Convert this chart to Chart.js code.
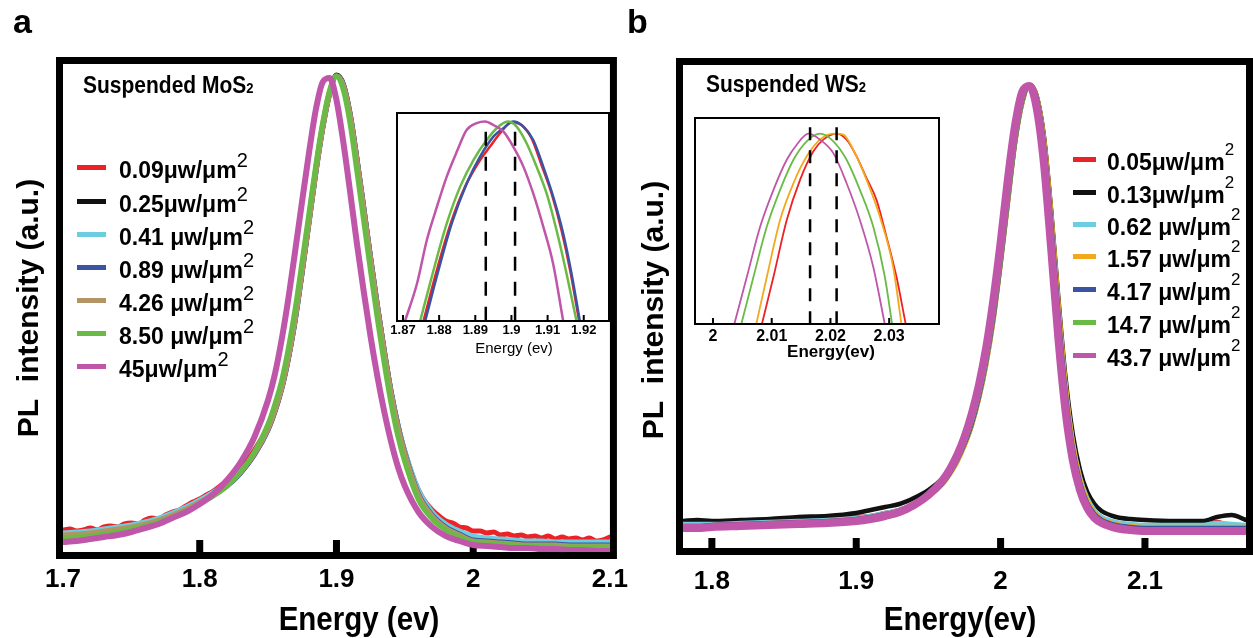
<!DOCTYPE html>
<html>
<head>
<meta charset="utf-8">
<script src="https://cdn.jsdelivr.net/npm/chart.js@4.4.0/dist/chart.umd.min.js"></script>
<style>
  html, body { margin: 0; padding: 0; background: #fff; }
  body { width: 1253px; height: 638px; position: relative; overflow: hidden;
         font-family: "Liberation Sans", Arial, Helvetica, sans-serif; color: #000; }
  canvas { position: absolute; }
  .t { position: absolute; white-space: nowrap; font-weight: bold; line-height: 1; z-index: 5; }
  .ct { position: absolute; white-space: nowrap; font-weight: bold; line-height: 1;
        transform: translate(-50%, -50%); z-index: 5; }
  .ylab { position: absolute; white-space: nowrap; font-weight: bold; line-height: 1; font-size: 30px;
          transform: translate(-50%, -50%) rotate(-90deg); z-index: 5; }
  .sw { position: absolute; height: 5px; z-index: 5; }
  .sup { position: relative; font-weight: normal; }
</style>
</head>
<body>

<canvas id="cMo" width="640" height="638" style="left:0;top:0;width:640px;height:638px"></canvas>
<canvas id="cWs" width="613" height="638" style="left:640px;top:0;width:613px;height:638px"></canvas>
<canvas id="cMoIn" width="240" height="265" style="left:380px;top:100px;width:240px;height:265px"></canvas>
<canvas id="cWsIn" width="270" height="260" style="left:680px;top:105px;width:270px;height:260px"></canvas>

<div class="t" style="left:13px;top:4px;font-size:34px">a</div>
<div class="t" style="left:627px;top:4px;font-size:34px">b</div>

<div class="t" style="left:83px;top:75px;font-size:21px;transform:scaleY(1.15);transform-origin:left bottom">Suspended MoS<span style="font-size:0.62em">2</span></div>
<div class="t" style="left:706px;top:74px;font-size:21px;transform:scaleY(1.15);transform-origin:left bottom">Suspended WS<span style="font-size:0.62em">2</span></div>

<div class="ylab" style="left:28px;top:308px">PL&nbsp; intensity (a.u.)</div>
<div class="ylab" style="left:653px;top:310px">PL&nbsp; intensity (a.u.)</div>

<div class="ct" style="left:359px;top:619px;font-size:29.5px;transform:translate(-50%,-50%) scaleY(1.1)">Energy (ev)</div>
<div class="ct" style="left:960px;top:619px;font-size:29.5px;transform:translate(-50%,-50%) scaleY(1.1)">Energy(ev)</div>
<div class="ct" style="left:514px;top:347px;font-size:15px;font-weight:normal">Energy (ev)</div>
<div class="ct" style="left:831px;top:351px;font-size:17px">Energy(ev)</div>

<div id="legMo"></div>
<div id="legWs"></div>

<script>
// ---------- panel a : suspended MoS2 ----------
const moPower = ['0.09', '0.25', '0.41 ', '0.89 ', '4.26 ', '8.50 ', '45'];
const moColors = ['#ec2227', '#111111', '#6dcde0', '#3a54a3', '#b39464', '#6abb46', '#bf56a9'];
const moTicks = [1.7, 1.8, 1.9, 2.0, 2.1];
const moTickLabels = ['1.7', '1.8', '1.9', '2', '2.1'];
const moMarks = [1.8, 1.9, 2.0];

const moE = [1.70, 1.71, 1.72, 1.73, 1.74, 1.75, 1.76, 1.77, 1.78, 1.79, 1.80, 1.81, 1.82, 1.83, 1.84, 1.85,
  1.855, 1.86, 1.865, 1.87, 1.875, 1.88, 1.885, 1.89, 1.895, 1.90, 1.905, 1.91, 1.915, 1.92, 1.925, 1.93, 1.935, 1.94, 1.945, 1.95,
  1.96, 1.97, 1.98, 1.99, 2.00, 2.01, 2.02, 2.03, 2.04, 2.05, 2.06, 2.07, 2.08, 2.09, 2.10];

const moBlack = [18, 19, 20, 22, 24, 26, 29, 33, 38, 44, 51, 59, 68, 80, 98, 123,
  141, 164, 195, 234, 281, 331, 381, 425, 459, 477, 468, 438, 393, 344, 294, 246, 201, 160, 127, 100,
  60, 38, 26, 20, 15, 13, 12, 11, 10, 10, 9, 9, 8, 8, 8];
const moCyan = [19, 20, 21, 23, 25, 27, 30, 34, 39, 45, 52, 60, 69, 81, 99, 124,
  142, 165, 196, 235, 282, 331, 381, 425, 459, 476, 467, 437, 392, 343, 293, 245, 200, 160, 127, 101,
  62, 40, 28, 21, 16, 14, 13, 12, 11, 11, 10, 10, 10, 10, 10];
const moBlue = [16, 17, 18, 20, 22, 24, 27, 31, 36, 42, 49, 57, 66, 79, 97, 122,
  140, 163, 194, 233, 280, 330, 380, 424, 458, 476, 468, 438, 393, 344, 294, 246, 201, 160, 126, 99,
  58, 37, 25, 18, 12, 11, 10, 9, 8, 8, 8, 7, 7, 7, 7];
const moTan = [17, 18, 19, 21, 23, 25, 28, 32, 37, 43, 50, 58, 67, 80, 98, 123,
  141, 164, 195, 234, 281, 330, 380, 424, 458, 476, 467, 437, 392, 343, 293, 245, 200, 159, 125, 98,
  57, 36, 24, 17, 11, 10, 9, 8, 7, 7, 7, 6, 6, 6, 6];
const moGreen = [14, 15, 16, 18, 20, 23, 26, 30, 35, 41, 48, 56, 66, 80, 100, 128,
  148, 172, 205, 245, 292, 340, 388, 430, 462, 476, 462, 428, 380, 330, 280, 232, 188, 148, 115, 90,
  52, 33, 22, 15, 10, 9, 8, 7, 6, 6, 5, 5, 5, 5, 5];
const moMagenta = [10, 11, 13, 15, 17, 20, 24, 28, 34, 40, 48, 58, 72, 90, 115, 152,
  178, 213, 255, 303, 352, 400, 443, 470, 474, 452, 410, 360, 308, 260, 215, 175, 140, 110, 85, 66,
  40, 25, 16, 11, 7, 6, 5, 4, 4, 3, 3, 2, 2, 1, 1];

// the lowest power spectrum is noisier, so it keeps its own finer grid
const moRedE = [1.700, 1.705, 1.710, 1.715, 1.720, 1.725, 1.730, 1.735, 1.740, 1.745, 1.750, 1.755, 1.760, 1.765,
  1.770, 1.775, 1.780, 1.785, 1.790, 1.795, 1.800, 1.805, 1.810, 1.815, 1.820, 1.825, 1.830, 1.835, 1.840, 1.845,
  1.850, 1.855, 1.860, 1.865, 1.870, 1.875, 1.880, 1.885, 1.890, 1.895, 1.900, 1.905, 1.910, 1.915, 1.920, 1.925,
  1.930, 1.935, 1.940, 1.945, 1.950, 1.955, 1.960, 1.965, 1.970, 1.975, 1.980, 1.985, 1.990, 1.995, 2.000, 2.005,
  2.010, 2.015, 2.020, 2.025, 2.030, 2.035, 2.040, 2.045, 2.050, 2.055, 2.060, 2.065, 2.070, 2.075, 2.080, 2.085,
  2.090, 2.095, 2.100];
const moRed = [22, 23, 21, 22, 24, 22, 25, 26, 25, 28, 29, 28, 32, 34,
  33, 37, 40, 42, 46, 50, 53, 57, 61, 66, 71, 77, 84, 92, 102, 113,
  126, 145, 168, 200, 240, 287, 336, 385, 428, 460, 476, 466, 435, 390, 340, 290,
  242, 198, 158, 125, 100, 79, 62, 50, 42, 36, 31, 29, 25, 24, 21, 21,
  19, 20, 17, 18, 16, 17, 15, 16, 14, 16, 13, 15, 13, 14, 12, 14,
  11, 12, 15];

// inset a (zoom on the peak)
const moInTicks = [1.87, 1.88, 1.89, 1.90, 1.91, 1.92];
const moInTickLabels = ['1.87', '1.88', '1.89', '1.9', '1.91', '1.92'];
const moInPeaks = [1.8929, 1.9010];
const moInPeakTop = 99.5;
const moInRedE = [1.8757, 1.87938, 1.88324, 1.88719, 1.89132, 1.89408, 1.89684, 1.90006, 1.90281, 1.90557, 1.90833, 1.91109, 1.91384, 1.91632, 1.91871];
const moInRed = [0, 25.3, 48.7, 67, 80.3, 87, 93.7, 99.2, 97.8, 91.2, 77.8, 63.7, 45.3, 24.5, 0];
const moInBlueE = [1.87616, 1.87983, 1.88351, 1.88765, 1.89132, 1.895, 1.89776, 1.90051, 1.90327, 1.90603, 1.90879, 1.91154, 1.9143, 1.9166, 1.9189];
const moInBlue = [0, 25.3, 48.7, 68.7, 82, 92, 96.2, 99.5, 97, 90.3, 77, 62, 43.7, 23.7, 0];
const moInGreenE = [1.87478, 1.87846, 1.88213, 1.88581, 1.88949, 1.89316, 1.89592, 1.89895, 1.90143, 1.90419, 1.90695, 1.90971, 1.91246, 1.91522, 1.91798];
const moInGreen = [0, 25.3, 48.7, 67, 80.3, 90.3, 96.2, 99.5, 97, 88.7, 77, 63.7, 45.3, 23.7, 0];
const moInMagE = [1.8706, 1.8739, 1.8766, 1.8794, 1.8821, 1.8849, 1.8876, 1.8904, 1.8927, 1.8950, 1.8978, 1.9005, 1.9033, 1.9060, 1.9088, 1.9115, 1.9143];
const moInMag = [0, 18.7, 40.3, 57, 72, 84.5, 95.3, 98.7, 99.5, 97.8, 94.5, 87, 77, 63.7, 47, 28.7, 0];

// ---------- panel b : suspended WS2 ----------
const wsPower = ['0.05', '0.13', '0.62 ', '1.57 ', '4.17 ', '14.7 ', '43.7 '];
const wsColors = ['#ec2227', '#111111', '#6dcde0', '#f2a91e', '#3a54a3', '#6abb46', '#bf56a9'];
const wsTicks = [1.8, 1.9, 2.0, 2.1];
const wsTickLabels = ['1.8', '1.9', '2', '2.1'];
const wsMarks = [1.8, 1.9, 2.0, 2.1];

const wsE = [1.78, 1.79, 1.80, 1.82, 1.84, 1.86, 1.88, 1.90,
  1.91, 1.92, 1.93, 1.94, 1.95, 1.96,
  1.965, 1.97, 1.975, 1.98, 1.985, 1.99, 1.995, 2.00, 2.005, 2.01, 2.015, 2.02, 2.025, 2.03, 2.035, 2.04, 2.045, 2.05, 2.055, 2.06, 2.065, 2.07,
  2.08, 2.09, 2.10,
  2.12, 2.14, 2.15, 2.16, 2.17];
const wsRed = [24, 24, 25, 26, 27, 28, 29, 31,
  32, 35, 38, 44, 52, 65,
  75, 87, 103, 123, 150, 184, 228, 285, 345, 405, 445, 463, 452, 410, 335, 245, 163, 106, 70, 48, 36, 30,
  25, 23, 22,
  22, 22, 26, 22, 22];
const wsBlack = [27, 28, 27, 28, 29, 31, 32, 35,
  38, 41, 44, 50, 58, 70,
  80, 92, 107, 127, 153, 187, 231, 287, 347, 406, 446, 463, 452, 412, 338, 250, 170, 114, 78, 56, 44, 37,
  31, 29, 28,
  27, 27, 31, 33, 28];
const wsCyan = [24, 24, 24, 25, 26, 27, 28, 30,
  32, 35, 38, 44, 52, 65,
  75, 87, 103, 123, 150, 184, 228, 284, 345, 405, 446, 463, 451, 408, 333, 243, 162, 106, 71, 50, 38, 31,
  26, 24, 23,
  23, 23, 25, 24, 23];
const wsOrange = [22, 22, 23, 24, 25, 26, 27, 29,
  31, 34, 37, 43, 51, 64,
  74, 86, 102, 122, 149, 183, 227, 283, 344, 404, 445, 463, 452, 410, 336, 246, 164, 106, 70, 48, 36, 29,
  24, 22, 21,
  21, 21, 21, 21, 21];
const wsBlue = [22, 22, 23, 24, 25, 26, 27, 29,
  31, 34, 37, 43, 52, 65,
  75, 88, 104, 124, 151, 186, 230, 285, 347, 406, 447, 463, 450, 404, 327, 236, 156, 100, 66, 45, 34, 28,
  23, 21, 20,
  20, 20, 20, 20, 20];
const wsGreen = [21, 21, 22, 23, 24, 25, 26, 28,
  30, 33, 37, 43, 52, 66,
  76, 89, 106, 127, 154, 189, 234, 288, 350, 408, 449, 463, 447, 398, 318, 226, 148, 95, 62, 43, 32, 26,
  21, 19, 18,
  18, 18, 18, 18, 18];
const wsMagenta = [20, 20, 21, 22, 23, 24, 25, 27,
  29, 32, 36, 43, 53, 68,
  79, 93, 111, 134, 163, 200, 248, 305, 368, 422, 456, 462, 440, 385, 300, 210, 137, 88, 58, 40, 30, 25,
  20, 18, 17,
  17, 17, 17, 17, 17];

// inset b
const wsInTicks = [2.00, 2.01, 2.02, 2.03];
const wsInTickLabels = ['2', '2.01', '2.02', '2.03'];
const wsInPeaks = [2.01653, 2.02105];
const wsInPeakTop = 100.3;
const wsInRedE = [2.00832, 2.0103, 2.01256, 2.01483, 2.01709, 2.01879, 2.02105, 2.02275, 2.02445, 2.02615, 2.02784, 2.02954, 2.03124, 2.03282];
const wsInRed = [0, 23.7, 52, 72, 86.2, 92, 95, 92, 83.7, 72.8, 62, 43.7, 23.7, 0];
const wsInOrangeE = [2.00736, 2.00917, 2.01143, 2.0137, 2.01596, 2.01822, 2.02049, 2.02218, 2.02388, 2.02615, 2.02841, 2.03067, 2.03209];
const wsInOrange = [0, 23.7, 52, 70.3, 83.7, 92, 95, 94.5, 87, 72, 53.7, 28.7, 0];
const wsInGreenE = [2.00481, 2.0069, 2.00917, 2.01143, 2.0137, 2.01596, 2.01822, 2.02049, 2.02275, 2.02501, 2.02728, 2.02926, 2.0305];
const wsInGreen = [0, 23.7, 48.7, 67, 82, 91.2, 95, 91.2, 82, 67, 48.7, 23.7, 0];
const wsInMagE = [2.00362, 2.00577, 2.00804, 2.0103, 2.01256, 2.01426, 2.01624, 2.01822, 2.02049, 2.02275, 2.02501, 2.02728, 2.02926];
const wsInMag = [0, 23.7, 48.7, 67, 82, 89.5, 95, 92, 85.3, 70.3, 52, 28.7, 0];

const SANS = '"Liberation Sans", Arial, sans-serif';

function pts(xs, ys) {
    return xs.map((x, i) => ({x: x, y: ys[i]}));
}

function line(xs, ys, color, width, order) {
    return {
        data: pts(xs, ys),
        borderColor: color,
        borderWidth: width,
        pointRadius: 0,
        fill: false,
        tension: 0.3,
        cubicInterpolationMode: 'monotone',
        borderJoinStyle: 'round',
        borderCapStyle: 'round',
        order: order
    };
}

function dashed(x, top, dash) {
    return {
        data: [{x: x, y: 0}, {x: x, y: top}],
        borderColor: '#000',
        borderWidth: 2.5,
        borderDash: dash,
        pointRadius: 0,
        fill: false,
        order: 0
    };
}

// white plot area, thick frame and the short inward ticks
const framePlugin = {
    id: 'frame',
    beforeDraw(chart) {
        const a = chart.chartArea;
        const ctx = chart.ctx;
        ctx.save();
        ctx.fillStyle = '#fff';
        ctx.fillRect(a.left, a.top, a.right - a.left, a.bottom - a.top);
        ctx.restore();
    },
    beforeDatasetsDraw(chart, args, opts) {
        const a = chart.chartArea;
        const ctx = chart.ctx;
        const w = opts.lineWidth;
        ctx.save();
        ctx.strokeStyle = '#000';
        ctx.lineWidth = w;
        ctx.strokeRect(a.left - w / 2, a.top - w / 2, a.right - a.left + w, a.bottom - a.top + w);
        ctx.fillStyle = '#000';
        opts.marks.forEach(v => {
            const px = chart.scales.x.getPixelForValue(v);
            ctx.fillRect(px - opts.markWidth / 2, a.bottom - opts.markLength, opts.markWidth, opts.markLength);
        });
        ctx.restore();
    }
};

function makeChart(id, datasets, o) {
    return new Chart(document.getElementById(id), {
        type: 'line',
        data: {datasets: datasets},
        plugins: [framePlugin],
        options: {
            responsive: false,
            animation: false,
            events: [],
            layout: {padding: o.padding},
            plugins: {
                legend: {display: false},
                tooltip: {enabled: false},
                frame: o.frame
            },
            scales: {
                x: {
                    type: 'linear',
                    min: o.xMin,
                    max: o.xMax,
                    afterBuildTicks: (s) => { s.ticks = o.ticks.map(v => ({value: v})); },
                    afterFit: (s) => { s.height = o.axisHeight; },
                    grid: {display: false, drawTicks: false},
                    border: {display: false},
                    ticks: {
                        autoSkip: false,
                        maxRotation: 0,
                        minRotation: 0,
                        color: '#000',
                        padding: o.tickPad,
                        font: o.tickFont,
                        callback: (val, i) => o.tickLabels[i]
                    }
                },
                y: {display: false, min: o.yMin, max: o.yMax}
            }
        }
    });
}

// panel a
makeChart('cMo', [
    line(moRedE, moRed, moColors[0], 5, 7),
    line(moE, moBlack, moColors[1], 5, 6),
    line(moE, moCyan, moColors[2], 5, 5),
    line(moE, moBlue, moColors[3], 5, 4),
    line(moE, moTan, moColors[4], 5, 3),
    line(moE, moGreen, moColors[5], 5, 2),
    line(moE, moMagenta, moColors[6], 6, 1)
], {
    padding: {left: 63, right: 26, top: 64, bottom: 0},
    axisHeight: 86, xMin: 1.7, xMax: 2.1, yMin: 0, yMax: 488,
    ticks: moTicks, tickLabels: moTickLabels, tickPad: 12,
    tickFont: {family: SANS, size: 26, weight: 'bold'},
    frame: {lineWidth: 7, marks: moMarks, markWidth: 7, markLength: 12}
});

makeChart('cMoIn', [
    line(moInRedE, moInRed, moColors[0], 2.5, 5),
    line(moInBlueE, moInBlue, moColors[3], 2.5, 4),
    line(moInGreenE, moInGreen, moColors[5], 2.5, 3),
    line(moInMagE, moInMag, moColors[6], 2.5, 2),
    dashed(moInPeaks[0], moInPeakTop, [14, 11]),
    dashed(moInPeaks[1], moInPeakTop, [14, 11])
], {
    padding: {left: 18, right: 12, top: 14, bottom: 0},
    axisHeight: 45, xMin: 1.86862, xMax: 1.92671, yMin: 0.33, yMax: 103.3,
    ticks: moInTicks, tickLabels: moInTickLabels, tickPad: 3,
    tickFont: {family: SANS, size: 13, weight: 'bold'},
    frame: {lineWidth: 2, marks: moInTicks, markWidth: 2, markLength: 5}
});

// panel b
makeChart('cWs', [
    line(wsE, wsRed, wsColors[0], 4.5, 7),
    line(wsE, wsBlack, wsColors[1], 4.5, 6),
    line(wsE, wsCyan, wsColors[2], 4.5, 5),
    line(wsE, wsOrange, wsColors[3], 4.5, 4),
    line(wsE, wsBlue, wsColors[4], 4.5, 3),
    line(wsE, wsGreen, wsColors[5], 4.5, 2),
    line(wsE, wsMagenta, wsColors[6], 8, 1)
], {
    padding: {left: 43, right: 7, top: 65, bottom: 0},
    axisHeight: 90, xMin: 1.78, xMax: 2.17, yMin: 0, yMax: 483,
    ticks: wsTicks, tickLabels: wsTickLabels, tickPad: 18,
    tickFont: {family: SANS, size: 26, weight: 'bold'},
    frame: {lineWidth: 7, marks: wsMarks, markWidth: 7, markLength: 10}
});

makeChart('cWsIn', [
    line(wsInRedE, wsInRed, wsColors[0], 1.8, 5),
    line(wsInOrangeE, wsInOrange, wsColors[3], 1.8, 4),
    line(wsInGreenE, wsInGreen, wsColors[5], 1.8, 3),
    line(wsInMagE, wsInMag, wsColors[6], 1.8, 2),
    dashed(wsInPeaks[0], wsInPeakTop, [13, 10]),
    dashed(wsInPeaks[1], wsInPeakTop, [13, 10])
], {
    padding: {left: 16, right: 12, top: 14, bottom: 0},
    axisHeight: 42, xMin: 1.99711, xMax: 2.03831, yMin: 0.67, yMax: 102.3,
    ticks: wsInTicks, tickLabels: wsInTickLabels, tickPad: 4,
    tickFont: {family: SANS, size: 16, weight: 'bold'},
    frame: {lineWidth: 2, marks: wsInTicks, markWidth: 2, markLength: 5}
});

// legends (html so the superscripts stay real text)
function legend(hostId, labels, colors, swLeft, swWidth, txtLeft, centers, supSize, supRaise) {
    const host = document.getElementById(hostId);
    let html = '';
    labels.forEach((lab, i) => {
        const c = centers[i];
        html += '<div class="sw" style="left:' + swLeft + 'px;top:' + (c - 5) + 'px;width:' + swWidth + 'px;background:' + colors[i] + '"></div>';
        html += '<div class="t" style="left:' + txtLeft + 'px;top:' + (c - 11) + 'px;font-size:23px">' +
            lab.replace(/ $/, '&nbsp;') + '\u03bcw/\u03bcm<span class="sup" style="font-size:' + supSize + 'px;top:-' + supRaise + 'px">2</span></div>';
    });
    host.innerHTML = html;
}

legend('legMo', moPower, moColors, 77, 29, 119, [170, 204, 237, 270, 303, 336, 369], 20, 11);
legend('legWs', wsPower, wsColors, 1073, 23, 1107, [162, 195, 227, 259, 292, 325, 358], 17, 15);
</script>
</body>
</html>
